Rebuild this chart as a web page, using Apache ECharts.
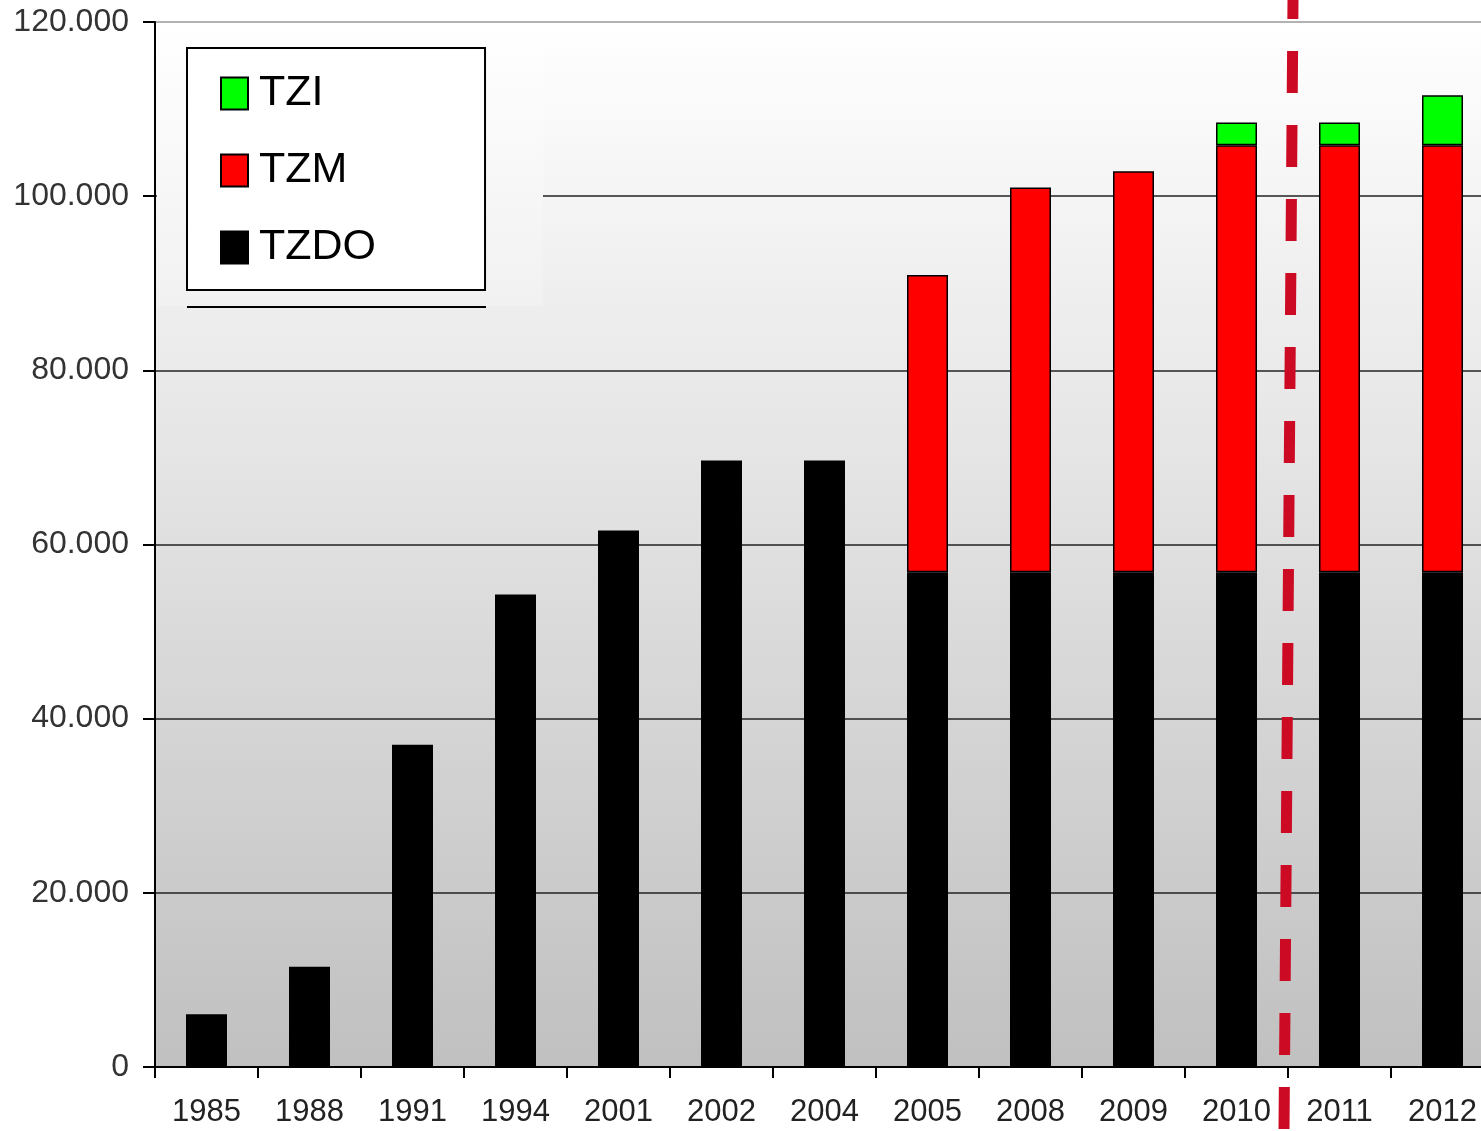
<!DOCTYPE html>
<html>
<head>
<meta charset="utf-8">
<script src="https://cdn.jsdelivr.net/npm/echarts@6/dist/echarts.min.js"></script>
<style>
  html, body { margin: 0; padding: 0; background: #fff; }
  #main { width: 1481px; height: 1131px; }
</style>
</head>
<body>
<div id="main"></div>
<script>
  var years = ['1985', '1988', '1991', '1994', '2001', '2002', '2004', '2005', '2008', '2009', '2010', '2011', '2012'];
  var tzdo = [6050, 11500, 37000, 54250, 61600, 69650, 69650, 56800, 56800, 56800, 56800, 56800, 56800];
  var tzm = [null, null, null, null, null, null, null, 34150, 44200, 46050, 49050, 49050, 49050];
  var tzi = [null, null, null, null, null, null, null, null, null, null, 2600, 2600, 5750];
  var yTicks = [0, 20000, 40000, 60000, 80000, 100000, 120000];

  var chart = echarts.init(document.getElementById('main'));

  // 20000 -> "20.000"
  function fmt(v) {
    return String(v).replace(/\B(?=(\d{3})+(?!\d))/g, '.');
  }

  var barStyle = function (color) {
    return { color: color, borderColor: '#000', borderWidth: 1.5 };
  };

  chart.setOption({
    backgroundColor: '#fff',
    animation: false,
    textStyle: { fontFamily: 'Liberation Sans, Arial, sans-serif' },
    grid: {
      left: 155, top: 22, bottom: 64, right: -13,
      outerBoundsMode: 'none',
      containLabel: false,
      show: true,
      borderWidth: 0,
      backgroundColor: {
        type: 'linear', x: 0, y: 0, x2: 0, y2: 1,
        colorStops: [{ offset: 0, color: '#ffffff' }, { offset: 1, color: '#c0c0c0' }]
      }
    },
    legend: {
      data: ['TZI', 'TZM', 'TZDO'],
      orient: 'vertical',
      left: 187, top: 48,
      padding: [24, 109, 21, 33],
      itemGap: 34,
      itemWidth: 27,
      itemHeight: 32,
      icon: 'rect',
      backgroundColor: '#fff',
      borderColor: '#000',
      borderWidth: 2,
      textStyle: { fontSize: 43, color: '#000', padding: [0, 0, 0, 6] }
    },
    xAxis: {
      type: 'category',
      data: years,
      axisLine: { lineStyle: { color: '#000', width: 2 } },
      axisTick: { show: true, interval: 0, length: 11, lineStyle: { color: '#000', width: 2 } },
      axisLabel: { interval: 0, fontSize: 31, color: '#222', margin: 30 }
    },
    yAxis: {
      type: 'value',
      min: yTicks[0],
      max: yTicks[yTicks.length - 1],
      interval: 20000,
      axisLine: { show: true, lineStyle: { color: '#000', width: 2 } },
      axisTick: { show: true, length: 12, lineStyle: { color: '#000', width: 2 } },
      axisLabel: { fontSize: 32, color: '#333', margin: 26, formatter: fmt },
      splitLine: {
        lineStyle: { color: ['#000', '#222', '#222', '#222', '#222', '#222', '#999'], width: 1.5 }
      }
    },
    series: [
      { name: 'TZDO', type: 'bar', stack: 'tz', barWidth: 41, data: tzdo, itemStyle: barStyle('#000000') },
      { name: 'TZM', type: 'bar', stack: 'tz', barWidth: 41, data: tzm, itemStyle: barStyle('#ff0000') },
      { name: 'TZI', type: 'bar', stack: 'tz', barWidth: 41, data: tzi, itemStyle: barStyle('#00ff00') }
    ],
    graphic: [
      {
        // pale patch behind the legend hiding the grid line
        type: 'rect', z: 1,
        shape: { x: 157, y: 24, width: 386, height: 282 },
        style: {
          fill: {
            type: 'linear', x: 0, y: 0, x2: 0, y2: 1,
            colorStops: [{ offset: 0, color: '#ffffff' }, { offset: 1, color: '#f1f1f1' }]
          }
        }
      },
      {
        type: 'line', z: 5,
        shape: { x1: 187, y1: 307, x2: 486, y2: 307 },
        style: { stroke: '#000', lineWidth: 2 }
      },
      {
        type: 'line', z: 100,
        shape: { x1: 1293, y1: 0, x2: 1284, y2: 1131 },
        style: { stroke: '#cc0a23', lineWidth: 11, lineDash: [42, 32], lineDashOffset: 23 }
      }
    ]
  });
</script>
</body>
</html>
